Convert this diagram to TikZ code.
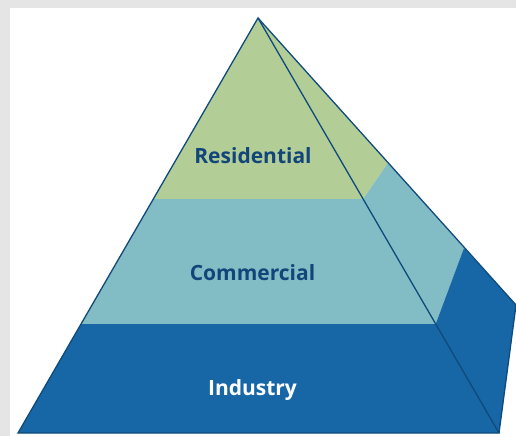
\documentclass[tikz,border=0pt]{standalone}
\usepackage{fontspec}
\setmainfont{Open Sans}
\definecolor{frame}{HTML}{E5E5E5}
\definecolor{resg}{HTML}{B3CD97}
\definecolor{comt}{HTML}{82BCC4}
\definecolor{indb}{HTML}{1766A6}
\definecolor{edge}{HTML}{0F4A7C}
\definecolor{darktxt}{HTML}{12467A}
\begin{document}
\begin{tikzpicture}[x=1pt,y=-1pt,
  label/.style={font=\fontsize{21}{24}\selectfont\bfseries, inner sep=0pt},
  outline/.style={draw=edge, line width=1.3pt, line join=miter}]
\useasboundingbox (0,0) rectangle (516,436);
\fill[frame] (0,0) rectangle (516,436);
\fill[white] (10,8) rectangle (516,436);
% key points
\coordinate (A) at (258,18);
\coordinate (BL) at (18,433);
\coordinate (BR) at (499,433);
\coordinate (BK) at (516,305);
\coordinate (L1) at (153.3,199);
\coordinate (R1) at (363.1,199);
\coordinate (L2) at (81,324);
\coordinate (R2) at (435.7,324);
\coordinate (K1) at (388,163);
\coordinate (K2) at (464,248);
% front face bands
\fill[resg] (A) -- (R1) -- (L1) -- cycle;
\fill[comt] (L1) -- (R1) -- (R2) -- (L2) -- cycle;
\fill[indb] (L2) -- (R2) -- (BR) -- (BL) -- cycle;
% right face bands
\fill[resg] (A) -- (K1) -- (R1) -- cycle;
\fill[comt] (R1) -- (K1) -- (K2) -- (R2) -- cycle;
\fill[indb] (R2) -- (K2) -- (BK) -- (BR) -- cycle;
% outlines
\draw[outline] (A) -- (BL) -- (BR) -- cycle;
\draw[outline] (A) -- (BK) -- (BR);
% labels
\node[label, text=darktxt] (res) at (253,156) {Residential};
\node[label, text=darktxt] (com) at (252.5,273) {Commercial};
\node[label, text=white] (ind) at (252.5,390) {Industry};
\end{tikzpicture}
\end{document}
